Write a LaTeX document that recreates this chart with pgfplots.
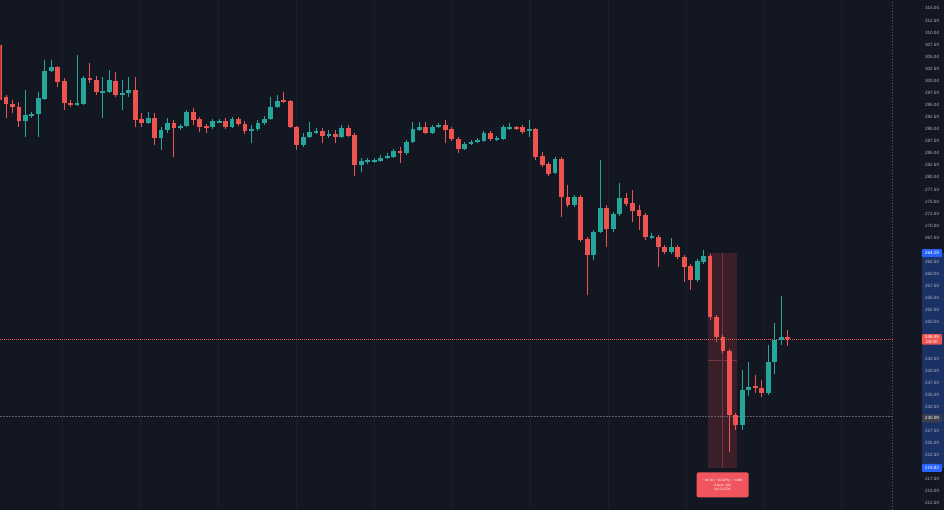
\documentclass[border=0pt]{standalone}
\usepackage{pgfplots}
\usepackage{pgfplotstable}
\pgfplotsset{compat=1.18}
\usepackage{fontspec}
\setmainfont{Liberation Sans}
\definecolor{bg}{HTML}{131722}
\definecolor{up}{HTML}{26A69A}
\definecolor{down}{HTML}{EF5350}
\definecolor{gridc}{HTML}{1B1F2B}
\definecolor{txt}{HTML}{B2B5BE}
\definecolor{band}{HTML}{1C3163}
\definecolor{hlblue}{HTML}{2962FF}
\definecolor{measure}{HTML}{3A1E28}
\definecolor{measureline}{HTML}{7A3341}
\definecolor{tip}{HTML}{F0555E}
\definecolor{cross}{HTML}{5D606B}
\definecolor{crossbox}{HTML}{3A3E4A}
\newcommand\tl{\fontsize{4.6}{5}\selectfont}
\newcommand\tipfont{\fontsize{3.4}{4.6}\selectfont}

\pgfplotstableread{
i o h l c
1 307.34 308.79 285.60 295.95
2 296.57 296.99 292.23 295.12
3 295.12 295.95 293.26 294.51
4 294.51 295.54 290.37 291.61
10 302.78 302.99 298.64 299.68
11 299.89 300.51 293.88 295.33
12 295.33 295.95 294.51 294.92
15 300.51 303.61 299.47 300.09
16 300.09 300.92 296.99 297.61
19 299.89 301.75 296.57 296.99
22 298.02 300.71 290.37 291.81
23 292.02 293.26 290.37 291.19
25 292.23 293.26 286.64 288.09
28 291.19 291.81 284.15 290.16
31 293.47 294.30 290.78 291.81
32 292.02 292.44 289.33 290.37
33 290.57 290.99 289.12 290.16
36 291.61 292.23 289.95 290.37
38 292.02 292.44 290.57 290.99
39 290.99 291.61 288.92 289.54
45 295.95 297.61 295.33 295.54
46 295.75 295.95 290.16 290.37
47 290.37 290.57 285.60 286.64
51 289.54 290.16 287.05 288.50
53 288.92 289.74 287.05 288.29
55 290.16 290.78 288.29 288.50
56 288.71 289.12 280.22 282.50
63 285.40 286.22 282.91 284.98
67 290.37 291.40 288.92 289.12
70 290.78 291.81 287.05 289.74
71 289.95 290.37 287.47 287.88
72 287.88 288.29 284.98 285.81
77 289.12 289.54 287.47 287.88
81 290.37 290.57 289.74 290.16
82 290.37 290.78 288.92 289.33
84 289.95 290.16 283.53 284.15
85 284.36 285.19 282.08 282.50
86 282.70 283.12 280.22 280.63
88 283.74 284.15 271.73 275.87
89 275.87 278.35 273.80 274.21
91 275.87 276.28 266.55 266.97
92 267.17 267.59 255.58 263.86
95 273.59 274.21 265.52 269.24
98 275.66 276.70 274.01 274.42
99 274.63 277.32 270.69 272.97
100 273.18 274.21 269.04 271.93
101 272.14 272.56 266.97 267.59
103 267.59 268.00 261.38 265.52
104 265.52 265.93 264.07 264.48
106 265.52 265.93 263.03 263.45
107 263.45 263.86 258.27 261.38
108 261.58 262.00 256.61 258.69
111 263.65 264.07 250.41 251.02
112 251.02 251.44 245.85 246.88
113 246.88 247.30 243.57 243.98
114 243.98 244.40 223.08 230.74
115 230.74 231.15 227.64 228.67
118 236.74 239.02 235.29 236.32
119 236.32 237.98 234.47 235.29
123 246.88 248.33 245.02 246.49
}\downtbl

\pgfplotstableread{
i o h l c
5 291.61 298.02 288.29 292.85
6 292.85 293.47 292.23 293.05
7 293.05 297.61 288.29 296.37
8 296.16 304.23 295.95 301.96
9 301.96 304.23 301.75 302.78
13 294.92 305.27 294.71 295.33
14 295.12 300.92 294.92 300.51
17 297.61 300.71 292.23 297.81
18 297.61 302.16 297.40 300.09
20 296.99 300.09 293.88 297.40
21 297.40 300.71 296.57 298.02
24 291.19 293.47 290.99 292.23
26 288.09 290.37 285.60 289.74
27 289.74 292.23 289.12 291.19
29 290.16 290.99 289.74 290.57
30 290.57 293.88 290.37 293.47
34 290.37 292.02 289.95 291.61
35 291.40 292.02 291.19 291.61
37 290.37 292.44 290.16 292.02
40 289.54 290.78 287.05 289.95
41 289.95 291.81 289.54 291.19
42 291.19 292.64 290.78 292.02
43 292.02 296.57 291.81 294.51
44 294.51 296.99 294.30 295.75
48 286.64 289.12 286.22 288.29
49 288.29 291.40 288.09 289.33
50 289.33 290.16 288.92 289.54
52 288.50 289.74 288.09 288.92
54 288.29 290.78 288.09 290.16
57 282.50 283.95 281.05 283.33
58 283.12 283.95 282.70 283.53
59 283.33 283.95 282.91 283.53
60 283.33 284.57 283.12 283.95
61 283.95 284.98 283.74 284.36
62 284.15 285.81 283.95 285.40
64 284.98 287.67 284.57 287.26
65 287.26 291.40 287.05 289.95
66 289.74 291.40 289.54 290.37
68 289.12 290.78 288.92 290.37
69 290.37 291.19 290.16 290.78
73 285.81 287.26 285.60 286.84
74 286.84 287.67 286.64 287.26
75 287.26 288.09 287.05 287.67
76 287.47 289.54 287.26 289.12
78 287.67 288.50 287.47 288.09
79 287.88 290.78 287.67 290.37
80 290.16 291.19 289.74 290.37
83 289.54 291.81 288.29 289.95
87 280.84 284.15 280.63 283.74
90 274.21 276.28 273.80 275.87
93 263.86 269.04 262.83 268.62
94 268.62 283.53 268.41 273.59
96 269.24 272.76 268.62 272.35
97 272.35 278.77 271.93 275.66
102 267.59 268.41 267.17 267.79
105 264.48 267.38 264.07 265.52
109 258.69 263.03 258.27 262.62
110 262.41 264.90 262.00 263.65
116 228.67 240.05 227.64 235.91
117 235.91 241.70 234.67 236.53
120 235.29 245.23 234.88 241.70
121 241.70 249.78 239.22 246.26
122 246.26 255.37 245.23 246.88
}\uptbl

\begin{document}
\begin{tikzpicture}
\begin{axis}[
  set layers,
  scale only axis, width=893pt, height=510pt,
  xmin=1.116, xmax=139.33, ymin=211.07, ymax=316.66,
  clip mode=individual,
  axis line style={draw=none},
  tick style={draw=none},
  major tick length=0pt,
  xtick={10.71,22.79,34.86,46.93,59.0,71.08,83.15,95.22,107.3,119.4,131.4},
  xticklabels={},
  xmajorgrids, grid style={gridc, line width=0.7pt},
  ytick={212.5,215,217.5,222.5,225,227.5,232.5,235,237.5,240,242.5,250,252.5,255,257.5,260,262.5,267.5,270,272.5,275,277.5,280,282.5,285,287.5,290,292.5,295,297.5,300,302.5,305,307.5,310,312.5,315},
  yticklabel pos=right,
  yticklabel style={anchor=center, xshift=39pt, font=\tl, text=txt},
  candle/.style={draw=none, mark=none, forget plot, error bars/y dir=both, error bars/y explicit, error bars/error mark=none},
  /pgf/number format/.cd, fixed, fixed zerofill, precision=2, 1000 sep={}, assume math mode=true
]
% background, price-scale band and measurement area
\begin{pgfonlayer}{axis background}
  \fill[bg] (axis cs:1.116,211.07) rectangle (axis cs:147.22,316.66);
  \fill[band] (axis cs:143.81,219.83) rectangle (axis cs:147.22,264.29);
  \fill[measure] (axis cs:110.75,219.83) rectangle (axis cs:115.15,264.29);
\end{pgfonlayer}
\begin{pgfonlayer}{axis grid}
  \draw[measureline, line width=0.7pt] (axis cs:112.95,219.83) -- (axis cs:112.95,264.29);
  \draw[measureline, line width=0.5pt] (axis cs:110.75,242.06) -- (axis cs:115.15,242.06);
  \draw[down, line width=0.6pt, dash pattern=on 1pt off 1pt] (axis cs:1.116,246.49) -- (axis cs:139.33,246.49);
  \draw[cross, line width=0.6pt, dash pattern=on 1.5pt off 1.5pt] (axis cs:1.116,230.6) -- (axis cs:139.33,230.6);
  \draw[cross, line width=0.6pt, dash pattern=on 1.5pt off 1.5pt] (axis cs:139.2,211.07) -- (axis cs:139.2,316.66);
\end{pgfonlayer}

% wicks
\addplot[candle, error bars/error bar style={line width=1pt, draw=down}]
  table[x=i, y expr={(\thisrow{h}+\thisrow{l})/2}, y error expr={(\thisrow{h}-\thisrow{l})/2}] {\downtbl};
\addplot[candle, error bars/error bar style={line width=1pt, draw=up}]
  table[x=i, y expr={(\thisrow{h}+\thisrow{l})/2}, y error expr={(\thisrow{h}-\thisrow{l})/2}] {\uptbl};
% bodies
\addplot[candle, error bars/error bar style={line width=4.8pt, draw=down}]
  table[x=i, y expr={(\thisrow{o}+\thisrow{c})/2}, y error expr={abs(\thisrow{o}-\thisrow{c})/2}] {\downtbl};
\addplot[candle, error bars/error bar style={line width=4.8pt, draw=up}]
  table[x=i, y expr={(\thisrow{o}+\thisrow{c})/2}, y error expr={abs(\thisrow{o}-\thisrow{c})/2}] {\uptbl};

\begin{pgfonlayer}{axis foreground}
  \node[fill=hlblue, text=white, font=\tl, inner sep=0pt, minimum width=20pt, minimum height=8pt, rounded corners=1pt] at (axis cs:145.36,264.29) {264.29};
  \node[fill=hlblue, text=white, font=\tl, inner sep=0pt, minimum width=20pt, minimum height=8pt, rounded corners=1pt] at (axis cs:145.36,219.83) {219.83};
  \node[fill=crossbox, text=white, font=\tl, inner sep=0pt, minimum width=20pt, minimum height=8pt, rounded corners=1pt] at (axis cs:145.36,230.09) {230.09};
  \node[fill=down, text=white, font=\tl, inner sep=1.2pt, minimum width=20pt, align=center, anchor=north, rounded corners=1pt] at (axis cs:145.36,247.60) {246.49\\00:00};
  \node[fill=tip, text=white, font=\tipfont, align=center, inner sep=2pt, minimum width=52pt, minimum height=25pt, rounded corners=2pt, anchor=north] at (axis cs:112.95,218.94) {−44.46 (−16.82\%) , −4446\\4 bars, 16h\\Vol 2.470K};
\end{pgfonlayer}
\end{axis}
\end{tikzpicture}
\end{document}
